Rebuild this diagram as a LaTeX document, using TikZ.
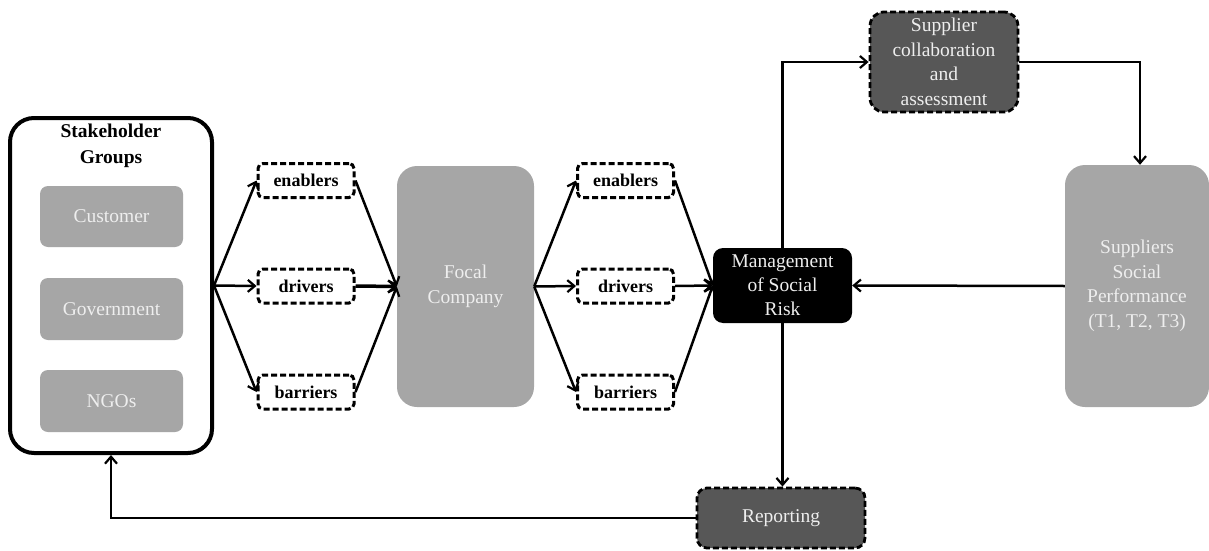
\documentclass[tikz,border=0pt]{standalone}
\usepackage{fontspec}
\setmainfont{Liberation Serif}
\newfontfamily\tnr{Liberation Serif}
\usetikzlibrary{arrows.meta}
\definecolor{boxgray}{HTML}{A6A6A6}
\definecolor{darkbox}{HTML}{575757}
\definecolor{lighttext}{HTML}{EEEEEE}
\tikzset{
  graybox/.style={fill=boxgray, text=lighttext, rounded corners=8pt, align=center,
    inner sep=0pt, font=\tnr\fontsize{19.5}{24.5}\selectfont},
  dashbox/.style={draw=black, fill=white, dash pattern=on 6pt off 3pt, line width=3pt,
    rounded corners=5pt, inner sep=0pt, minimum width=96pt, minimum height=34pt,
    font=\tnr\bfseries\fontsize{18}{20}\selectfont},
  darkdash/.style={draw=black, fill=darkbox, text=lighttext, dash pattern=on 6pt off 3pt,
    line width=2.8pt, rounded corners=14pt, align=center, inner sep=0pt,
    font=\tnr\fontsize{19.5}{24.5}\selectfont},
  conn/.style={line width=2.5pt, -{Straight Barb[length=7pt,width=12pt,line width=2.2pt]}},
}
\begin{document}
\begin{tikzpicture}[x=1pt,y=-1pt]
\useasboundingbox (0,0) rectangle (1209,551);
% Stakeholder groups
\node[draw=black, line width=4pt, fill=white, rounded corners=24pt, minimum width=202pt,
  minimum height=335pt, inner sep=0pt] (sh) at (111,285.5) {};
\node[align=center, font=\tnr\bfseries\fontsize{19.5}{26}\selectfont, inner sep=0pt] (shtitle) at (111,146) {Stakeholder\\Groups};
\node[graybox, minimum width=143pt, minimum height=61pt] (cust) at (111.5,216.5) {Customer};
\node[graybox, minimum width=143pt, minimum height=62pt] (gov) at (111.5,309) {Government};
\node[graybox, minimum width=143pt, minimum height=62pt] (ngo) at (111.5,401) {NGOs};
% first set
\node[dashbox] (e1) at (306,180.5) {enablers};
\node[dashbox] (d1) at (306,286) {drivers};
\node[dashbox] (b1) at (306,392) {barriers};
% focal company
\node[graybox, rounded corners=20pt, minimum width=137pt, minimum height=241pt] (focal) at (465.5,286.5) {Focal\\Company};
% second set
\node[dashbox] (e2) at (625.5,180.5) {enablers};
\node[dashbox] (d2) at (625.5,286) {drivers};
\node[dashbox] (b2) at (625.5,392) {barriers};
% management
\node[fill=black, text=lighttext, rounded corners=10pt, align=center, inner sep=0pt,
  minimum width=139pt, minimum height=75pt, font=\tnr\fontsize{19.5}{24}\selectfont] (mgmt) at (782.5,285.5) {Management\\of Social\\Risk};
% supplier collaboration
\node[darkdash, minimum width=148pt, minimum height=100pt] (sca) at (944,62) {Supplier\\collaboration\\and\\assessment};
% suppliers social performance
\node[graybox, rounded corners=20pt, minimum width=144pt, minimum height=242pt] (ssp) at (1137,286) {Suppliers\\Social\\Performance\\(T1, T2, T3)};
% reporting
\node[darkdash, rounded corners=10pt, minimum width=168pt, minimum height=60pt] (rep) at (781,518) {Reporting};
% connectors
\draw[conn] (sh.east) -- (e1.west);
\draw[conn] (sh.east) -- (d1.west);
\draw[conn] (sh.east) -- (b1.west);
\draw[conn] (e1.east) -- (focal.west);
\draw[conn, line width=3.5pt] (d1.east) -- (focal.west);
\draw[conn] (b1.east) -- (focal.west);
\draw[conn] (focal.east) -- (e2.west);
\draw[conn] (focal.east) -- (d2.west);
\draw[conn] (focal.east) -- (b2.west);
\draw[conn] (e2.east) -- (mgmt.west);
\draw[conn] (d2.east) -- (mgmt.west);
\draw[conn] (b2.east) -- (mgmt.west);
\draw[conn] (mgmt.north) |- (sca.west);
\coordinate (sspin) at ([xshift=3pt]ssp.north);
\draw[conn] (sca.east) -| (sspin);
\draw[conn] (ssp.west) -- (mgmt.east);
\draw[conn] (mgmt.south) -- (mgmt.south |- rep.north);
\draw[conn] (rep.west) -| (sh.south);
\end{tikzpicture}
\end{document}
